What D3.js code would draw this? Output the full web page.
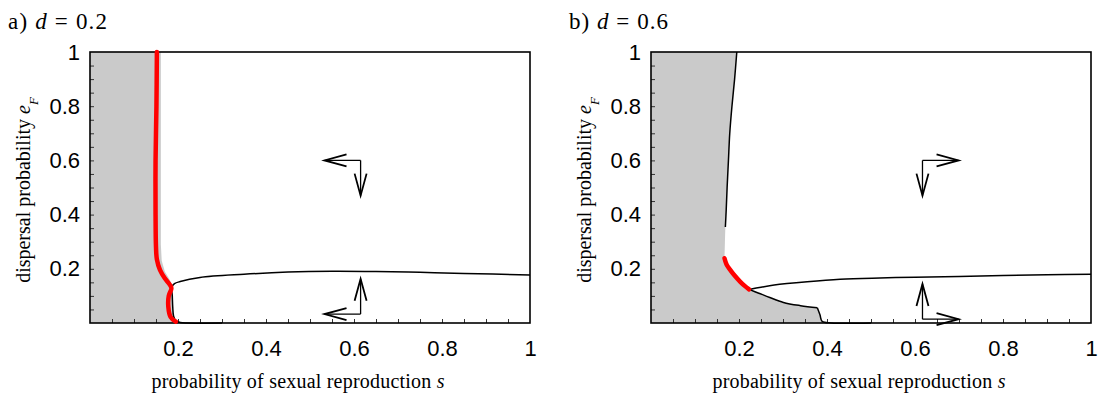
<!DOCTYPE html>
<html>
<head>
<meta charset="utf-8">
<script src="https://cdn.jsdelivr.net/npm/d3@7"></script>
<style>
  body { margin: 0; background: #fff; }
  text { fill: #000; }
</style>
</head>
<body>
<svg id="chart" width="1103" height="393"></svg>
<script>
// ---- values, as [s, eF] pairs ----
const sTicks = [0.2, 0.4, 0.6, 0.8, 1];
const eTicks = [0.2, 0.4, 0.6, 0.8, 1];

// panel a) d = 0.2
const grayA = [[0, 1], [0.161, 1], [0.161, 0.29], [0.163, 0.23], [0.17, 0.19], [0.18, 0.163],
  [0.186, 0.14], [0.186, 0.132], [0.187, 0.1], [0.188, 0.06], [0.19, 0.025], [0.195, 0.008],
  [0.205, 0.002], [0.22, 0], [0, 0]];
const redA = [[0.152, 1], [0.151, 0.8], [0.149, 0.6], [0.149, 0.4], [0.15, 0.28], [0.152, 0.235],
  [0.159, 0.196], [0.17, 0.165], [0.182, 0.14], [0.185, 0.128], [0.179, 0.1], [0.178, 0.06],
  [0.183, 0.023], [0.195, 0.005]];
const curveA = [[0.3, 0], [0.22, 0], [0.205, 0.002], [0.195, 0.008], [0.19, 0.025], [0.188, 0.06],
  [0.187, 0.1], [0.186, 0.132], [0.192, 0.145], [0.205, 0.153], [0.25, 0.168], [0.35, 0.18],
  [0.45, 0.188], [0.55, 0.191], [0.65, 0.19], [0.75, 0.187], [0.85, 0.183], [1, 0.177]];
const arrowCornersA = [[0.615, 0.6], [0.615, 0.033]];
const arrowDirsA = [[-1, -1], [-1, 1]];

// panel b) d = 0.6
const grayB = [[0, 1], [0.195, 1], [0.19, 0.9], [0.184, 0.8], [0.179, 0.7], [0.176, 0.6],
  [0.173, 0.5], [0.171, 0.42], [0.169, 0.354], [0.168, 0.3], [0.167, 0.239], [0.172, 0.215],
  [0.18, 0.196], [0.19, 0.175], [0.203, 0.152], [0.213, 0.137], [0.223, 0.124], [0.245, 0.11],
  [0.27, 0.094], [0.301, 0.076], [0.34, 0.064], [0.378, 0.056], [0.384, 0.03], [0.389, 0.006],
  [0.41, 0], [0, 0]];
const topB = [[0.195, 1], [0.19, 0.9], [0.184, 0.8], [0.179, 0.7], [0.176, 0.6], [0.173, 0.5],
  [0.171, 0.42], [0.169, 0.354]];
const redB = [[0.167, 0.239], [0.172, 0.215], [0.18, 0.196], [0.19, 0.175], [0.203, 0.152],
  [0.213, 0.137], [0.223, 0.124]];
const upperB = [[0.223, 0.124], [0.25, 0.132], [0.28, 0.14], [0.355, 0.152], [0.43, 0.161],
  [0.52, 0.166], [0.6, 0.169], [0.7, 0.172], [0.8, 0.175], [0.9, 0.178], [1, 0.18]];
const lowerB = [[0.223, 0.124], [0.245, 0.11], [0.27, 0.094], [0.301, 0.076], [0.34, 0.064],
  [0.378, 0.056]];
const stepB = [[0.378, 0.056], [0.384, 0.03], [0.389, 0.006], [0.41, 0], [0.5, 0]];
const arrowCornersB = [[0.617, 0.6], [0.617, 0.014]];
const arrowDirsB = [[1, -1], [1, 1]];

const svg = d3.select("#chart");
const serif = "'Liberation Serif', 'DejaVu Serif', serif";
const sans = "'Liberation Sans', Arial, sans-serif";

function drawPanel(cfg) {
  const x = d3.scaleLinear().domain([0, 1]).range([cfg.left, cfg.left + 440]);
  const y = d3.scaleLinear().domain([0, 1]).range([323, 52]);
  const g = svg.append("g");
  const line = d3.line().x(d => x(d[0])).y(d => y(d[1]));
  const smooth = d3.line().curve(d3.curveCatmullRom.alpha(0.5)).x(d => x(d[0])).y(d => y(d[1]));

  // grey region
  g.append("path").attr("d", line(cfg.gray) + "Z").attr("fill", "#cacaca");

  // minor ticks every 0.05, pointing inward
  const minor = d3.range(1, 20).map(i => i / 20);
  g.append("g").attr("transform", "translate(0,323)")
    .call(d3.axisBottom(x).tickValues(minor).tickSize(-4).tickFormat(""))
    .call(a => a.select(".domain").remove())
    .selectAll("line").attr("stroke", "#333");
  g.append("g").attr("transform", "translate(" + cfg.left + ",0)")
    .call(d3.axisLeft(y).tickValues(minor).tickSize(-4).tickFormat(""))
    .call(a => a.select(".domain").remove())
    .selectAll("line").attr("stroke", "#333");

  // tick labels
  const fmt = d => d === 1 ? "1" : d3.format(".1f")(d);
  g.append("g").attr("transform", "translate(0,323)")
    .call(d3.axisBottom(x).tickValues(sTicks).tickSize(0).tickPadding(17).tickFormat(fmt))
    .call(a => a.select(".domain").remove())
    .selectAll("text").attr("font-family", sans).attr("font-size", 22).attr("fill", "#000");
  g.append("g").attr("transform", "translate(" + (cfg.left - 10) + ",0)")
    .call(d3.axisLeft(y).tickValues(eTicks).tickSize(0).tickPadding(0).tickFormat(fmt))
    .call(a => a.select(".domain").remove())
    .selectAll("text").attr("font-family", sans).attr("font-size", 22).attr("fill", "#000");

  // frame
  g.append("rect").attr("x", x(0)).attr("y", y(1))
    .attr("width", x(1) - x(0)).attr("height", y(0) - y(1))
    .attr("fill", "none").attr("stroke", "#000").attr("stroke-width", 1.6);

  // black boundary curves
  cfg.curves.forEach(c => {
    g.append("path").attr("d", smooth(c)).attr("fill", "none")
      .attr("stroke", "#000").attr("stroke-width", 1.5);
  });

  // red curve
  g.append("path").attr("d", smooth(cfg.red))
    .attr("fill", "none").attr("stroke", "#ff0000").attr("stroke-width", 4.5)
    .attr("stroke-linecap", "round");

  // direction arrows
  const lenS = 0.082, lenE = 0.13, head = 22, half = 6;
  cfg.corners.forEach((c, i) => {
    const [ds, de] = cfg.dirs[i];
    const cx = x(c[0]), cy = y(c[1]);
    const tips = [[x(c[0] + ds * lenS), cy], [cx, y(c[1] + de * lenE)]];
    tips.forEach(t => {
      g.append("line").attr("x1", cx).attr("y1", cy).attr("x2", t[0]).attr("y2", t[1])
        .attr("stroke", "#000").attr("stroke-width", 1.3);
      const dx = t[0] - cx, dy = t[1] - cy, L = Math.hypot(dx, dy);
      const ux = dx / L, uy = dy / L;
      const bx = t[0] - ux * head, by = t[1] - uy * head;
      g.append("path")
        .attr("d", "M" + (bx - uy * half) + "," + (by + ux * half) + "L" + t[0] + "," + t[1] +
          "L" + (bx + uy * half) + "," + (by - ux * half))
        .attr("fill", "none").attr("stroke", "#000").attr("stroke-width", 1.8);
    });
  });

  // panel title
  const t = g.append("text").attr("x", cfg.left - 82).attr("y", 29)
    .attr("font-family", serif).attr("font-size", 23)
    .attr("textLength", 99).attr("lengthAdjust", "spacing");
  t.append("tspan").text(cfg.tag + " ");
  t.append("tspan").attr("font-style", "italic").text("d");
  t.append("tspan").text(" = " + cfg.d);

  // axis titles
  const xt = g.append("text").attr("x", (x(0) + x(1)) / 2 - 12).attr("y", 388)
    .attr("text-anchor", "middle").attr("font-family", serif).attr("font-size", 20)
    .attr("textLength", 293).attr("lengthAdjust", "spacing");
  xt.append("tspan").text("probability of sexual reproduction ");
  xt.append("tspan").attr("font-style", "italic").text("s");

  const yt = g.append("text")
    .attr("transform", "translate(" + (cfg.left - 60) + ",190) rotate(-90)")
    .attr("text-anchor", "middle").attr("font-family", serif).attr("font-size", 20);
  yt.append("tspan").text("dispersal probability ");
  yt.append("tspan").attr("font-style", "italic").text("e");
  yt.append("tspan").attr("font-style", "italic").attr("font-size", 13)
    .attr("baseline-shift", "sub").text("F");
}

drawPanel({ left: 90, tag: "a)", d: "0.2", gray: grayA, red: redA, curves: [curveA],
  corners: arrowCornersA, dirs: arrowDirsA });
drawPanel({ left: 651, tag: "b)", d: "0.6", gray: grayB, red: redB,
  curves: [topB, upperB, lowerB, stepB], corners: arrowCornersB, dirs: arrowDirsB });
</script>
</body>
</html>
